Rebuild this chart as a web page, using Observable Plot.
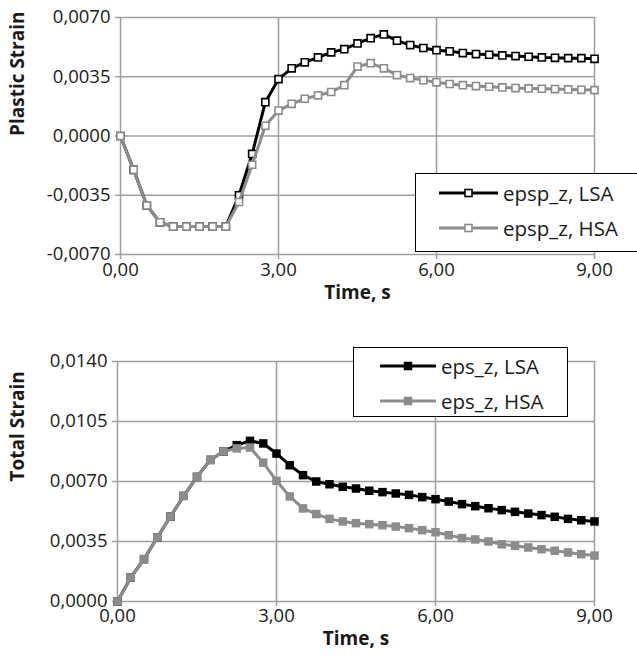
<!DOCTYPE html>
<html>
<head>
<meta charset="utf-8">
<script src="https://cdn.jsdelivr.net/npm/d3@7"></script>
<script src="https://cdn.jsdelivr.net/npm/@observablehq/plot@0.6"></script>
<style>
  body { margin: 0; background: #fff; }
  #wrap { position: relative; width: 637px; height: 660px; overflow: hidden; font-family: "Open Sans", sans-serif; color: #1a1a1a; }
  #wrap svg.chart { position: absolute; left: 0; }
  .legend { position: absolute; background: #fff; border: 1.5px solid #000; box-sizing: border-box; }
  .legend .row { position: absolute; left: 0; display: flex; align-items: center; font-size: 20.5px; white-space: nowrap; }
  .legend .row svg { display: block; margin-right: 5px; }
</style>
</head>
<body>
<div id="wrap"></div>
<script>
// Time steps (s)
const time = [0, 0.25, 0.5, 0.75, 1, 1.25, 1.5, 1.75, 2, 2.25, 2.5, 2.75, 3, 3.25, 3.5, 3.75, 4, 4.25, 4.5, 4.75, 5, 5.25, 5.5, 5.75, 6, 6.25, 6.5, 6.75, 7, 7.25, 7.5, 7.75, 8, 8.25, 8.5, 8.75, 9];

// Plastic strain, epsp_z
const epspLSA = [0, -0.0020, -0.0041, -0.0051, -0.00535, -0.00535, -0.00535, -0.00535, -0.00535, -0.0035, -0.00106, 0.0020, 0.00336, 0.0040, 0.00435, 0.00464, 0.00494, 0.00513, 0.00547, 0.00578, 0.0060, 0.00563, 0.00537, 0.0052, 0.00507, 0.0050, 0.0049, 0.00484, 0.0048, 0.00476, 0.00472, 0.00468, 0.00464, 0.00462, 0.0046, 0.0046, 0.00456];
const epspHSA = [0, -0.0020, -0.0041, -0.0051, -0.00535, -0.00535, -0.00535, -0.00535, -0.00535, -0.0039, -0.0017, 0.0006, 0.0015, 0.0019, 0.0022, 0.0024, 0.0026, 0.0030, 0.0041, 0.0043, 0.0040, 0.0036, 0.00342, 0.0033, 0.00317, 0.00307, 0.0030, 0.00295, 0.00291, 0.00287, 0.00283, 0.00281, 0.00279, 0.00277, 0.00275, 0.00273, 0.00271];

// Total strain, eps_z
const epsLSA = [0, 0.0014, 0.00247, 0.00373, 0.00496, 0.00616, 0.00727, 0.00826, 0.00875, 0.00912, 0.00937, 0.00922, 0.00863, 0.00795, 0.00737, 0.0070, 0.00684, 0.00669, 0.00659, 0.00646, 0.00638, 0.0063, 0.00622, 0.00609, 0.00597, 0.00583, 0.00568, 0.00556, 0.00544, 0.00533, 0.00523, 0.00513, 0.00504, 0.00494, 0.00482, 0.00474, 0.00467];
const epsHSA = [0, 0.0014, 0.00247, 0.00373, 0.00496, 0.00616, 0.00727, 0.00826, 0.00875, 0.00893, 0.00898, 0.0081, 0.00704, 0.00613, 0.00543, 0.0051, 0.00482, 0.00467, 0.00457, 0.00451, 0.00445, 0.00437, 0.00428, 0.00416, 0.00404, 0.00387, 0.0037, 0.00362, 0.0035, 0.00334, 0.00325, 0.00315, 0.00305, 0.00296, 0.00286, 0.00276, 0.00268];

// Axis ticks
const xTicks = [0, 3, 6, 9];
const plasticTicks = [-0.007, -0.0035, 0, 0.0035, 0.007];
const totalTicks = [0, 0.0035, 0.007, 0.0105, 0.014];

// Series names
const plasticNames = ["epsp_z, LSA", "epsp_z, HSA"];
const totalNames = ["eps_z, LSA", "eps_z, HSA"];

const BLACK = "#000000";
const GREY = "#8c8c8c";
const GRID = "#9e9e9e";

const fmtX = v => v.toFixed(2).replace(".", ",");
const fmtY = v => (v < -1e-12 ? "-" : "") + Math.abs(v).toFixed(4).replace(".", ",");

const rows = (ys) => time.map((t, i) => ({t, v: ys[i]}));

function panel({top, height, mt, mb, ml, yDomain, yTicks, yLabel, series, filled, tickDy, titleDy}) {
  const marks = [
    Plot.gridY(yTicks, {stroke: GRID, strokeOpacity: 1, strokeWidth: 1.5}),
    Plot.gridX(xTicks, {stroke: GRID, strokeOpacity: 1, strokeWidth: 1.5}),
    Plot.axisY(yTicks, {tickFormat: fmtY, tickSize: 5, tickPadding: 5, stroke: GRID, strokeWidth: 1.5, label: null, fontSize: 18.5}),
    Plot.axisX(xTicks, {tickFormat: fmtX, tickSize: 5, tickPadding: tickDy, stroke: GRID, strokeWidth: 1.5, label: null, fontSize: 18.5}),
    Plot.text(["Time, s"], {text: d => d, frameAnchor: "bottom", dy: titleDy, fontWeight: "bold", fontSize: 19}),
    Plot.text([yLabel], {text: d => d, frameAnchor: "left", dx: -(ml - 17), rotate: -90, fontWeight: "bold", fontSize: 19})
  ];
  // black series first, grey drawn over it
  for (const s of series) {
    const data = rows(s.values);
    marks.push(Plot.line(data, {x: "t", y: "v", stroke: s.color, strokeWidth: 3}));
    marks.push(Plot.dot(data, filled
      ? {x: "t", y: "v", symbol: "square", r: 4.8, fill: s.color, stroke: "none"}
      : {x: "t", y: "v", symbol: "square", r: 4, fill: "#fff", stroke: s.color, strokeWidth: 1.6}));
  }
  const svg = Plot.plot({
    width: 637, height,
    marginLeft: ml, marginRight: 43, marginTop: mt, marginBottom: mb,
    x: {domain: [0, 9]},
    y: {domain: yDomain},
    style: {fontFamily: "Open Sans, sans-serif", fontSize: "18px", color: "#1a1a1a", background: "transparent", overflow: "visible"},
    marks
  });
  svg.classList.add("chart");
  svg.style.top = top + "px";
  return svg;
}

function legend({left, top, width, height, rowsY, swX0, swX1, names, colors, filled}) {
  const box = document.createElement("div");
  box.className = "legend";
  Object.assign(box.style, {left: left + "px", top: top + "px", width: width + "px", height: height + "px"});
  names.forEach((name, i) => {
    const row = document.createElement("div");
    row.className = "row";
    row.style.top = (rowsY[i] - top - 14) + "px";
    row.style.height = "28px";
    row.style.paddingLeft = (swX0 - left) + "px";
    const w = swX1 - swX0;
    const ns = "http://www.w3.org/2000/svg";
    const sw = document.createElementNS(ns, "svg");
    sw.setAttribute("width", w); sw.setAttribute("height", 14);
    const ln = document.createElementNS(ns, "line");
    ln.setAttribute("x1", 0); ln.setAttribute("x2", w); ln.setAttribute("y1", 7); ln.setAttribute("y2", 7);
    ln.setAttribute("stroke", colors[i]); ln.setAttribute("stroke-width", 3);
    sw.appendChild(ln);
    const sq = document.createElementNS(ns, "rect");
    const s = filled ? 8.5 : 7;
    sq.setAttribute("x", w / 2 - s / 2); sq.setAttribute("y", 7 - s / 2);
    sq.setAttribute("width", s); sq.setAttribute("height", s);
    sq.setAttribute("fill", filled ? colors[i] : "#fff");
    if (!filled) { sq.setAttribute("stroke", colors[i]); sq.setAttribute("stroke-width", 1.6); }
    sw.appendChild(sq);
    row.appendChild(sw);
    const tx = document.createElement("span");
    tx.textContent = name;
    row.appendChild(tx);
    box.appendChild(row);
  });
  return box;
}

const wrap = document.getElementById("wrap");

wrap.appendChild(panel({
  top: 0, height: 310, mt: 17, mb: 56, ml: 120,
  yDomain: [-0.007, 0.007], yTicks: plasticTicks, yLabel: "Plastic Strain",
  series: [{values: epspLSA, color: BLACK}, {values: epspHSA, color: GREY}],
  filled: false, tickDy: 3, titleDy: 44
}));

wrap.appendChild(panel({
  top: 310, height: 350, mt: 51, mb: 59, ml: 117,
  yDomain: [0, 0.014], yTicks: totalTicks, yLabel: "Total Strain",
  series: [{values: epsLSA, color: BLACK}, {values: epsHSA, color: GREY}],
  filled: true, tickDy: 2, titleDy: 43
}));

wrap.appendChild(legend({
  left: 415, top: 173, width: 224, height: 79, rowsY: [192, 227], swX0: 438, swX1: 497,
  names: plasticNames, colors: [BLACK, GREY], filled: false
}));

wrap.appendChild(legend({
  left: 353, top: 347, width: 215, height: 70, rowsY: [365, 400], swX0: 379, swX1: 435,
  names: totalNames, colors: [BLACK, GREY], filled: true
}));
</script>
</body>
</html>
